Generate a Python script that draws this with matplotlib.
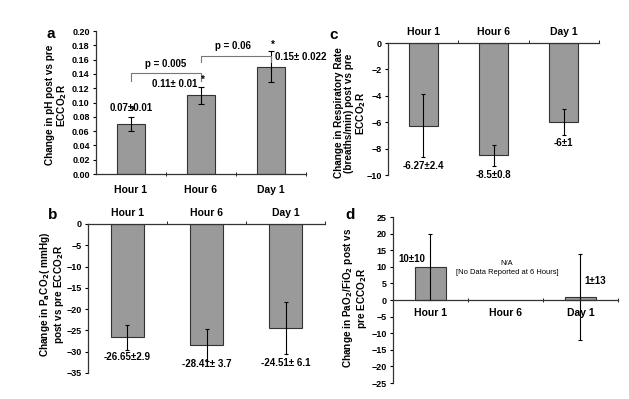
import matplotlib.pyplot as plt
import numpy as np

plt.rcParams['font.family'] = ['Liberation Sans', 'DejaVu Sans']
plt.rcParams['font.weight'] = 'bold'
plt.rcParams['mathtext.default'] = 'bf'

# data
cats = ['Hour 1', 'Hour 6', 'Day 1']

ph = [0.07, 0.11, 0.15]
ph_err = [0.01, 0.012, 0.022]
ph_lbl = ['0.07±0.01', '0.11± 0.01', '0.15± 0.022']

paco2 = [-26.65, -28.41, -24.51]
paco2_err = [2.9, 3.7, 6.1]
paco2_lbl = ['-26.65±2.9', '-28.41± 3.7', '-24.51± 6.1']

rr = [-6.27, -8.5, -6.0]
rr_err = [2.4, 0.8, 1.0]
rr_lbl = ['-6.27±2.4', '-8.5±0.8', '-6±1']

pf_cats = ['Hour 1', 'Day 1']
pf = [10, 1]
pf_err = [10, 13]
pf_lbl = ['10±10', '1±13']

bar_c = '#9a9a9a'
W, H = 629, 399
fig = plt.figure(figsize=(6.29, 3.99), dpi=100)

def style(ax):
    ax.spines['right'].set_visible(False)
    ax.tick_params(axis='y', labelsize=6.5, length=2.5, width=0.8, pad=2)
    for s in ax.spines.values():
        s.set_linewidth(0.9)
        s.set_color('#333333')
    for t in ax.get_yticklabels():
        t.set_fontweight('bold')

def ylab(px, py, s, fs=7.2):
    fig.text(px / W, 1 - py / H, s, rotation=90, ha='center', va='center',
             multialignment='center', fontsize=fs, fontweight='bold', linespacing=1.05)

# ---- a ----
ax = fig.add_axes([0.1526, 0.5639, 0.3339, 0.3584])
x = np.arange(3)
ax.bar(x, ph, 0.41, color=bar_c, edgecolor='#333333', linewidth=0.8)
ax.errorbar(x, ph, yerr=ph_err, fmt='none', ecolor='black', elinewidth=0.8, capsize=2, capthick=0.8)
ax.set_xlim(-0.5, 2.5)
ax.set_ylim(0, 0.2)
ax.set_yticks(np.arange(0, 0.201, 0.02))
ax.set_yticklabels([f'{v:.2f}' for v in np.arange(0, 0.201, 0.02)])
ax.set_xticks(x)
ax.set_xticklabels(cats, fontsize=7.5, fontweight='bold')
ax.tick_params(axis='x', length=0, pad=8)
ax.set_xticks([0.5, 1.5, 2.5], minor=True)
ax.tick_params(axis='x', which='minor', length=2.5, direction='inout')
ax.spines['top'].set_visible(False)
style(ax)
for i in range(3):
    ax.text(i + 0.02, ph[i] + ph_err[i] + 0.002, '*', ha='center', va='bottom', fontsize=7)
ax.text(0, 0.086, ph_lbl[0], ha='center', va='bottom', fontsize=7)
ax.text(0.95, 0.119, ph_lbl[1], ha='right', va='bottom', fontsize=7)
ax.text(2.06, 0.156, ph_lbl[2], ha='left', va='bottom', fontsize=7)
ax.plot([0, 0, 1, 1], [0.130, 0.141, 0.141, 0.130], color='#777777', lw=0.8)
ax.text(0.5, 0.147, 'p = 0.005', ha='center', va='bottom', fontsize=7)
ax.plot([1, 1, 2, 2], [0.156, 0.165, 0.165, 0.156], color='#777777', lw=0.8)
ax.text(1.45, 0.172, 'p = 0.06', ha='center', va='bottom', fontsize=7)
ylab(57, 105, 'Change in pH post vs pre\nECCO$_2$R')
fig.text(0.081, 0.915, 'a', fontsize=11, fontweight='bold', va='center', ha='center')

# ---- b ----
ax = fig.add_axes([0.1399, 0.0652, 0.3768, 0.3734])
ax.bar(x, paco2, 0.42, color=bar_c, edgecolor='#333333', linewidth=0.8)
ax.errorbar(x, paco2, yerr=paco2_err, fmt='none', ecolor='black', elinewidth=0.8, capsize=1.5, capthick=0.8)
ax.set_xlim(-0.5, 2.5)
ax.set_ylim(-35, 0)
ax.set_yticks(np.arange(-35, 1, 5))
ax.xaxis.tick_top()
ax.set_xticks(x)
ax.set_xticklabels(cats, fontsize=7.5, fontweight='bold')
ax.tick_params(axis='x', length=0, pad=4)
ax.set_xticks([0.5, 1.5, 2.5], minor=True)
ax.tick_params(axis='x', which='minor', length=2.5, direction='out', top=True)
ax.spines['bottom'].set_visible(False)
style(ax)
lbl_y = [-31.3, -33.0, -32.7]
for i in range(3):
    ax.text(i, lbl_y[i], paco2_lbl[i], ha='center', va='center', fontsize=7)
ylab(52, 294, 'Change in P$_a$CO$_2$( mmHg)\npost vs pre ECCO$_2$R')
fig.text(0.084, 0.462, 'b', fontsize=11, fontweight='bold', va='center', ha='center')

# ---- c ----
ax = fig.add_axes([0.6169, 0.5614, 0.3354, 0.3308])
ax.bar(x, rr, 0.41, color=bar_c, edgecolor='#333333', linewidth=0.8)
ax.errorbar(x, rr, yerr=rr_err, fmt='none', ecolor='black', elinewidth=0.8, capsize=1.5, capthick=0.8)
ax.set_xlim(-0.5, 2.5)
ax.set_ylim(-10, 0)
ax.set_yticks(np.arange(-10, 1, 2))
ax.xaxis.tick_top()
ax.set_xticks(x)
ax.set_xticklabels(cats, fontsize=7.5, fontweight='bold')
ax.tick_params(axis='x', length=0, pad=4)
ax.set_xticks([0.5, 1.5, 2.5], minor=True)
ax.tick_params(axis='x', which='minor', length=2.5, direction='out', top=True)
ax.spines['bottom'].set_visible(False)
style(ax)
lbl_y = [-9.3, -10.0, -7.6]
for i in range(3):
    ax.text(i, lbl_y[i], rr_lbl[i], ha='center', va='center', fontsize=7)
ylab(351, 113, 'Change in Respiratory Rate\n(breaths/min) post vs pre\nECCO$_2$R')
fig.text(0.531, 0.912, 'c', fontsize=11, fontweight='bold', va='center', ha='center')

# ---- d ----
ax = fig.add_axes([0.6248, 0.0401, 0.3577, 0.4160])
xd = np.array([0, 2])
ax.bar(xd, pf, 0.41, color=bar_c, edgecolor='#333333', linewidth=0.8)
ax.errorbar(xd, pf, yerr=pf_err, fmt='none', ecolor='black', elinewidth=0.8, capsize=1.5, capthick=0.8)
ax.set_xlim(-0.5, 2.5)
ax.set_ylim(-25, 25)
ax.set_yticks(np.arange(-25, 26, 5))
ax.spines['bottom'].set_position(('data', 0))
ax.spines['top'].set_visible(False)
ax.set_xticks(x)
ax.set_xticklabels(cats, fontsize=7.5, fontweight='bold')
ax.tick_params(axis='x', length=0, pad=6)
ax.set_xticks([0.5, 1.5, 2.5], minor=True)
ax.tick_params(axis='x', which='minor', length=2.5, direction='inout')
style(ax)
ax.text(-0.25, 12.5, pf_lbl[0], ha='center', va='center', fontsize=7)
ax.text(2.2, 5.8, pf_lbl[1], ha='center', va='center', fontsize=7)
ax.text(1.02, 9.6, 'N/A\n[No Data Reported at 6 Hours]', ha='center', va='center',
        fontsize=5.4, fontweight='normal', linespacing=1.3)
ylab(355, 298, 'Change in PaO$_2$/FiO$_2$ post vs\npre ECCO$_2$R')
fig.text(0.557, 0.462, 'd', fontsize=11, fontweight='bold', va='center', ha='center')

plt.savefig('out.png', dpi=100)
